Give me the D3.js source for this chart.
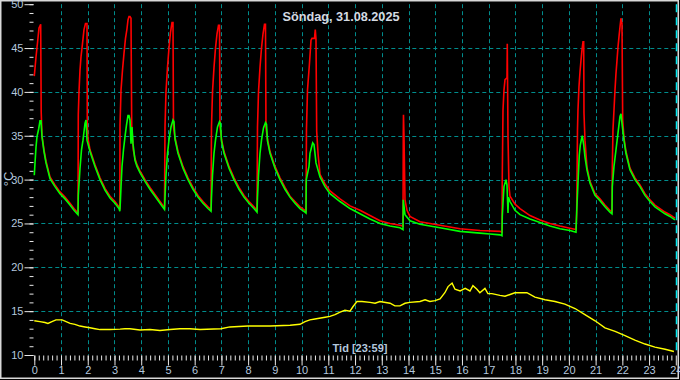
<!DOCTYPE html>
<html>
<head>
<meta charset="UTF-8">
<script src="https://cdn.jsdelivr.net/npm/d3@7"></script>
<title>Söndag, 31.08.2025</title>
<style>
    body { margin: 0; background: #000; }
    svg { display: block; }
</style>
</head>
<body>
<div id="Chart"></div>
<script>
    // tick labels
    const hourTicks = [0, 1, 2, 3, 4, 5, 6, 7, 8, 9, 10, 11, 12, 13, 14, 15, 16, 17, 18, 19, 20, 21, 22, 23, 24]
    const tempTicks = [10, 15, 20, 25, 30, 35, 40, 45, 50]
    const gridTemps = [15, 20, 25, 30, 35, 40, 45]

    // red series (hour of day, °C)
    const hoursRed = [
        0, 0.064, 0.120, 0.176, 0.239, 0.258, 0.288, 0.363, 0.438, 0.587, 0.774, 0.961, 1.149, 1.336, 1.485, 1.635,
        1.646, 1.672, 1.710, 1.747, 1.803, 1.859, 1.915, 1.972, 1.983, 2.009, 2.084, 2.271, 2.458, 2.645, 2.832, 3.019, 3.169, 3.200,
        3.206, 3.244, 3.300, 3.356, 3.412, 3.468, 3.505, 3.543, 3.580, 3.618, 3.644, 3.704, 3.767, 3.842, 3.954, 4.141, 4.328, 4.516, 4.703, 4.871,
        4.890, 4.927, 4.983, 5.039, 5.095, 5.152, 5.189, 5.208, 5.264, 5.376, 5.563, 5.750, 5.937, 6.124, 6.311, 6.498, 6.611,
        6.629, 6.667, 6.723, 6.779, 6.835, 6.891, 6.929, 6.947, 7.003, 7.097, 7.284, 7.471, 7.658, 7.845, 8.032, 8.219, 8.331,
        8.350, 8.388, 8.444, 8.500, 8.556, 8.612, 8.649, 8.668, 8.724, 8.818, 9.005, 9.192, 9.379, 9.566, 9.753, 9.940, 10.127,
        10.165, 10.183, 10.221, 10.296, 10.352, 10.389, 10.483, 10.512, 10.539, 10.565, 10.614, 10.689, 10.876, 11.063, 11.437, 11.811, 12.185, 12.559, 12.933, 13.307, 13.681, 13.794,
        13.805, 13.812, 13.831, 13.868, 13.943, 14.055, 14.430, 15.178, 15.926, 16.674, 17.422, 17.497,
        17.508, 17.535, 17.572, 17.610, 17.684, 17.695, 17.722, 17.759, 17.797, 17.984, 18.171, 18.545, 18.919, 19.293, 19.667, 20.041, 20.266,
        20.292, 20.322, 20.340, 20.378, 20.416, 20.453, 20.490, 20.528, 20.554, 20.565, 20.602, 20.677, 20.789, 20.976, 21.163, 21.350, 21.537, 21.612,
        21.624, 21.650, 21.687, 21.725, 21.762, 21.800, 21.837, 21.875, 21.912, 21.949, 21.987, 22.013, 22.061, 22.136, 22.286, 22.473, 22.660, 22.847, 23.034, 23.221, 23.408, 23.595, 23.782, 23.969
    ]
    const tempRed = [
        41.8, 44.0, 45.6, 47.3, 47.7, 37.7, 35.0, 33.4, 32.1, 30.3, 29.4, 28.6, 28.0, 27.3, 26.7, 26.2,
        37.4, 40.0, 42.5, 44.0, 45.5, 47.1, 47.8, 47.8, 36.2, 34.7, 33.4, 31.7, 30.2, 29.0, 28.1, 27.5, 26.9, 26.6,
        36.2, 40.2, 42.5, 44.4, 46.1, 47.2, 48.2, 48.6, 48.6, 48.4, 36.2, 33.4, 32.4, 31.7, 31.0, 30.0, 29.1, 28.3, 27.5, 26.8,
        36.0, 40.0, 42.8, 45.0, 46.8, 47.9, 47.9, 36.0, 34.8, 33.2, 31.5, 30.2, 29.1, 28.2, 27.5, 26.9, 26.6,
        36.0, 40.0, 42.8, 45.0, 46.6, 47.6, 47.6, 36.0, 34.6, 33.2, 31.5, 30.2, 29.1, 28.2, 27.5, 26.9, 26.5,
        36.0, 40.0, 42.8, 45.0, 46.6, 47.7, 47.7, 36.0, 34.6, 33.2, 31.5, 30.2, 29.1, 28.1, 27.5, 26.9, 26.5,
        26.4, 35.8, 40.2, 43.3, 45.9, 46.1, 46.1, 47.1, 46.0, 35.5, 33.0, 30.6, 29.5, 28.7, 27.8, 27.0, 26.5, 25.9, 25.3, 25.0, 24.8, 24.7,
        35.3, 37.4, 35.0, 27.7, 26.5, 25.8, 25.2, 24.8, 24.4, 24.2, 24.1, 24.0,
        30.3, 37.9, 40.2, 41.4, 41.6, 45.5, 34.9, 29.2, 28.1, 27.2, 26.7, 25.9, 25.4, 25.0, 24.7, 24.45, 24.3,
        26.2, 35.7, 37.9, 40.6, 42.3, 43.6, 44.8, 45.7, 45.7, 37.6, 34.5, 31.4, 29.8, 28.4, 27.8, 27.1, 26.5, 26.3,
        31.3, 35.7, 37.9, 40.2, 42.1, 43.6, 45.1, 46.3, 47.4, 48.4, 47.8, 36.8, 34.8, 33.2, 31.3, 30.2, 29.4, 28.4, 27.7, 27.1, 26.7, 26.3, 26.0, 25.6
    ]

    // green series
    const hoursGreen = [
        0, 0.026, 0.064, 0.101, 0.165, 0.213, 0.251, 0.288, 0.363, 0.438, 0.587, 0.774, 0.961, 1.149, 1.336, 1.485, 1.635,
        1.646, 1.710, 1.766, 1.822, 1.897, 1.934, 1.972, 2.084, 2.271, 2.458, 2.645, 2.832, 3.019, 3.169, 3.200,
        3.217, 3.244, 3.281, 3.337, 3.393, 3.449, 3.505, 3.543, 3.580, 3.618, 3.655, 3.692, 3.767, 3.842, 3.954, 4.141, 4.328, 4.516, 4.703, 4.871,
        4.890, 4.927, 4.983, 5.039, 5.114, 5.189, 5.226, 5.264, 5.376, 5.563, 5.750, 5.937, 6.124, 6.311, 6.498, 6.611,
        6.629, 6.667, 6.723, 6.779, 6.854, 6.929, 6.966, 7.003, 7.097, 7.284, 7.471, 7.658, 7.845, 8.032, 8.219, 8.331,
        8.350, 8.388, 8.444, 8.500, 8.575, 8.649, 8.687, 8.724, 8.818, 9.005, 9.192, 9.379, 9.566, 9.753, 9.940, 10.127,
        10.165, 10.176, 10.277, 10.314, 10.415, 10.464, 10.501, 10.539, 10.689, 10.876, 11.063, 11.437, 11.811, 12.185, 12.559, 12.933, 13.307, 13.681, 13.794,
        13.805, 13.868, 14.055, 14.430, 15.178, 15.926, 16.674, 17.048, 17.422, 17.497,
        17.508, 17.535, 17.572, 17.647, 17.684, 17.722, 17.741, 17.797, 17.984, 18.171, 18.545, 18.919, 19.293, 19.667, 20.041, 20.266,
        20.292, 20.340, 20.389, 20.426, 20.464, 20.501, 20.554, 20.602, 20.677, 20.789, 20.976, 21.163, 21.350, 21.537, 21.612,
        21.624, 21.687, 21.762, 21.837, 21.912, 21.949, 21.987, 22.061, 22.136, 22.286, 22.473, 22.660, 22.847, 23.034, 23.221, 23.408, 23.595, 23.782, 23.969
    ]
    const tempGreen = [
        30.5, 31.9, 33.7, 34.9, 35.8, 36.7, 36.7, 34.9, 33.2, 31.9, 30.1, 29.2, 28.4, 27.8, 27.1, 26.5, 26.0,
        28.2, 31.3, 33.4, 34.5, 36.4, 36.8, 34.5, 33.2, 31.5, 30.0, 28.8, 27.9, 27.3, 26.7, 26.4,
        27.3, 29.2, 31.5, 33.4, 34.9, 36.2, 37.3, 37.3, 36.8, 34.1, 36.0, 34.1, 32.2, 31.5, 30.8, 29.8, 28.9, 28.1, 27.3, 26.6,
        28.0, 30.5, 33.0, 34.5, 36.0, 36.8, 36.6, 34.6, 33.0, 31.3, 30.0, 28.9, 28.0, 27.3, 26.7, 26.4,
        28.0, 30.5, 33.0, 34.5, 36.0, 36.6, 36.4, 34.4, 33.0, 31.3, 30.0, 28.9, 28.0, 27.3, 26.7, 26.3,
        28.0, 30.5, 33.0, 34.5, 35.9, 36.5, 36.3, 34.4, 33.0, 31.3, 30.0, 28.9, 28.0, 27.3, 26.7, 26.3,
        26.2, 30.0, 31.5, 33.0, 34.2, 34.0, 33.0, 31.9, 30.3, 29.2, 28.4, 27.5, 26.7, 26.1, 25.5, 25.0, 24.7, 24.5, 24.3,
        27.7, 26.0, 25.3, 24.9, 24.5, 24.1, 23.9, 23.8, 23.7, 23.6,
        25.8, 27.3, 29.2, 30.0, 29.4, 26.2, 28.0, 27.5, 26.5, 26.0, 25.5, 25.1, 24.7, 24.4, 24.2, 24.0,
        26.3, 29.6, 32.8, 33.9, 34.5, 35.0, 34.0, 32.6, 31.1, 29.6, 28.2, 27.6, 26.9, 26.3, 26.1,
        29.2, 31.5, 33.4, 35.3, 37.2, 37.5, 36.4, 34.5, 33.0, 31.1, 30.0, 29.2, 28.2, 27.5, 26.9, 26.5, 26.1, 25.8, 25.4
    ]

    // yellow series
    const hoursYellow = [
        0, 0.21, 0.40, 0.51, 0.66, 0.81, 1.04, 1.19, 1.34, 1.52, 1.71, 1.90, 2.08, 2.27, 2.46, 2.83, 3.21, 3.39, 3.58, 3.95,
        4.33, 4.70, 5.08, 5.45, 5.82, 6.20, 6.98, 7.32, 7.99, 8.82, 9.57, 9.94, 10.13, 10.31, 10.50, 10.88, 11.06, 11.25, 11.44, 11.62,
        11.81, 11.92, 12.07, 12.26, 12.56, 12.75, 12.93, 13.31, 13.49, 13.68, 13.87, 14.05, 14.43, 14.62, 14.80, 14.99, 15.18, 15.36, 15.48, 15.63,
        15.74, 15.93, 16.12, 16.30, 16.41, 16.56, 16.67, 16.86, 16.97, 17.12, 17.42, 17.61, 17.80, 17.98, 18.17, 18.43, 18.73, 19.11, 19.48, 19.85,
        20.23, 20.60, 20.98, 21.35, 21.73, 22.10, 22.47, 22.85, 23.22, 23.60, 23.93
    ]
    const tempYellow = [
        13.9, 13.8, 13.7, 13.6, 13.8, 14.0, 14.0, 13.8, 13.6, 13.5, 13.3, 13.2, 13.1, 13.0, 12.9, 12.9, 12.95, 13.0, 13.0, 12.85,
        12.9, 12.8, 12.9, 13.0, 13.0, 12.9, 13.0, 13.2, 13.3, 13.3, 13.4, 13.5, 13.8, 14.0, 14.1, 14.3, 14.4, 14.6, 14.9, 15.1,
        15.0, 15.5, 16.1, 16.1, 16.0, 15.9, 16.1, 15.9, 15.6, 15.6, 15.9, 16.0, 16.1, 16.3, 16.1, 16.2, 16.4, 17.1, 17.8, 18.2,
        17.5, 17.3, 17.6, 17.3, 17.9, 17.5, 17.1, 17.6, 17.0, 17.0, 16.8, 16.7, 16.9, 17.1, 17.1, 17.1, 16.6, 16.3, 16.1, 15.8,
        15.3, 14.6, 13.9, 13.1, 12.7, 12.2, 11.7, 11.25, 10.9, 10.65, 10.4
    ]

    const width = 680
    const height = 380
    const font = "'Liberation Sans', Arial, sans-serif"
    const labelColor = "#b4c8de"
    const gridColor = "#008c8c"

    const x = d3.scaleLinear().domain([0, 24]).range([34.3, 675.8])
    const y = d3.scaleLinear().domain([10, 50]).range([355, 4.2])
    const px = v => Math.round(v) + 0.5

    const svg = d3.select("#Chart")
        .append("svg")
        .attr("width", width)
        .attr("height", height)
        .style("background", "#000")
        .style("font-family", font)

    // frame
    svg.append("rect")
        .attr("x", 0.75).attr("y", 0.75)
        .attr("width", width - 2.5).attr("height", height - 2.5)
        .attr("fill", "none")
        .attr("stroke", "#d8d8d8")
        .attr("stroke-width", 1.5)

    // grid
    svg.append("g")
        .selectAll("line")
        .data(hourTicks.filter(h => h > 0 && h < 24))
        .enter()
        .append("line")
        .attr("x1", h => px(x(h))).attr("x2", h => px(x(h)))
        .attr("y1", y(50)).attr("y2", y(10))
        .attr("stroke", gridColor)
        .attr("stroke-dasharray", "4,3")

    svg.append("g")
        .selectAll("line")
        .data(gridTemps)
        .enter()
        .append("line")
        .attr("x1", x(0)).attr("x2", x(24))
        .attr("y1", t => px(y(t))).attr("y2", t => px(y(t)))
        .attr("stroke", gridColor)
        .attr("stroke-dasharray", "4,3")

    // end of day marker
    svg.append("line")
        .attr("x1", px(x(24))).attr("x2", px(x(24)))
        .attr("y1", y(50)).attr("y2", y(10))
        .attr("stroke", "#00e8f0")
        .attr("stroke-width", 1.5)
        .attr("stroke-dasharray", "8,5")

    // axes
    const styleAxis = g => {
        g.select(".domain").remove()
        g.selectAll("line").attr("stroke", "#e8e8e8")
        g.selectAll("text").attr("fill", labelColor).style("font-size", "11px").style("font-family", font)
    }

    svg.append("g")
        .attr("transform", "translate(33.5,0)")
        .call(d3.axisLeft(y).tickValues(d3.range(10, 51, 1)).tickSize(4).tickFormat(""))
        .call(styleAxis)
    svg.append("g")
        .attr("transform", "translate(33.5,0)")
        .call(d3.axisLeft(y).tickValues(tempTicks).tickSize(9).tickPadding(1))
        .call(styleAxis)

    svg.append("g")
        .attr("transform", "translate(0,355.5)")
        .call(d3.axisBottom(x).tickValues(d3.range(0, 144).map(i => i / 6)).tickSize(5).tickFormat(""))
        .call(styleAxis)
    svg.append("g")
        .attr("transform", "translate(0,355.5)")
        .call(d3.axisBottom(x).tickValues(hourTicks).tickSize(10).tickPadding(1))
        .call(styleAxis)

    // lines
    const drawLine = (hours, temps, color, w) => {
        const pts = hours.map((h, i) => [h, temps[i]])
        svg.append("path")
            .datum(pts)
            .attr("fill", "none")
            .attr("stroke", color)
            .attr("stroke-width", w)
            .attr("stroke-linejoin", "miter")
            .attr("d", d3.line().x(d => x(d[0])).y(d => y(d[1])))
    }
    drawLine(hoursYellow, tempYellow, "#ffff00", 1.4)
    drawLine(hoursRed, tempRed, "#ff0000", 1.6)
    drawLine(hoursGreen, tempGreen, "#00ff00", 1.6)

    // texts
    svg.append("text")
        .attr("x", 341).attr("y", 21)
        .attr("text-anchor", "middle")
        .attr("fill", "#d4dae2")
        .style("font-size", "12.7px")
        .style("font-weight", "bold")
        .text("Söndag, 31.08.2025")

    svg.append("text")
        .attr("x", 360).attr("y", 352)
        .attr("text-anchor", "middle")
        .attr("fill", labelColor)
        .style("font-size", "11px")
        .style("font-weight", "bold")
        .text("Tid [23:59]")

    svg.append("text")
        .attr("transform", "translate(13,179) rotate(-90)")
        .attr("text-anchor", "middle")
        .attr("fill", labelColor)
        .style("font-size", "13px")
        .text("°C")
</script>
</body>
</html>
